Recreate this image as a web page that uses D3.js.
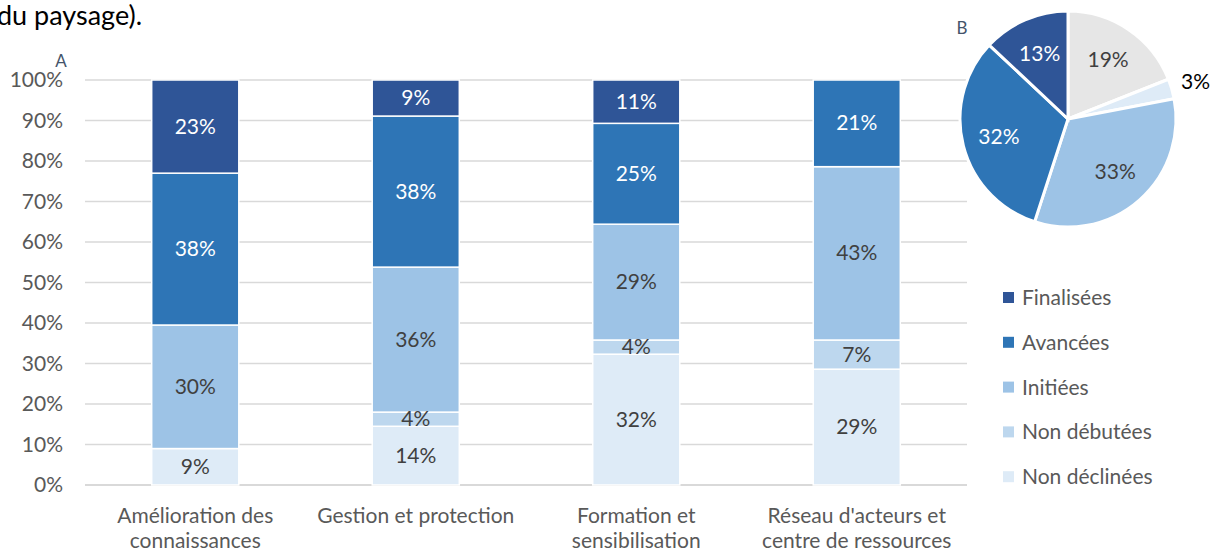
<!DOCTYPE html>
<html>
<head>
<meta charset="utf-8">
<script src="https://cdn.jsdelivr.net/npm/d3@7"></script>
<style>
	body { margin: 0; background: #fff; }
	svg text { font-family: Lato, "Liberation Sans", sans-serif; }
</style>
</head>
<body>
<div id="chart"></div>
<script>
// categories (two lines each)
let categories = [
	["Amélioration des", "connaissances"],
	["Gestion et protection"],
	["Formation et", "sensibilisation"],
	["Réseau d'acteurs et", "centre de ressources"]
];
// series, bottom to top
let seriesNames = ["Non déclinées", "Non débutées", "Initiées", "Avancées", "Finalisées"];
let seriesColors = ["#DEEBF7", "#BDD7EE", "#9DC3E6", "#2E75B6", "#2F5597"];
let nonDeclinees = [9, 14.5, 32.3, 28.6];
let nonDebutees = [0, 3.5, 3.5, 7.2];
let initiees = [30.5, 35.8, 28.6, 42.8];
let avancees = [37.5, 37.3, 24.9, 21.4];
let finalisees = [23, 8.9, 10.7, 0];
// shown labels
let labelsNonDeclinees = ["9%", "14%", "32%", "29%"];
let labelsNonDebutees = ["", "4%", "4%", "7%"];
let labelsInitiees = ["30%", "36%", "29%", "43%"];
let labelsAvancees = ["38%", "38%", "25%", "21%"];
let labelsFinalisees = ["23%", "9%", "11%", ""];
let yTicks = [0, 10, 20, 30, 40, 50, 60, 70, 80, 90, 100];

// pie (B), clockwise from top
let pieNames = ["Autre", "Non déclinées", "Initiées", "Avancées", "Finalisées"];
let pieValues = [19, 3, 33, 32, 13];
let pieColors = ["#E6E6E6", "#DEEBF7", "#9DC3E6", "#2E75B6", "#2F5597"];

var width = 1220, height = 552;
var fs = 21;
var svg = d3.select("#chart").append("svg")
	.attr("width", width)
	.attr("height", height);

// leftover text from the page above
svg.append("text")
	.attr("x", -3).attr("y", 25)
	.attr("font-size", 27).attr("fill", "#000")
	.text("du paysage).");

var xScale = d3.scaleBand()
	.domain(d3.range(categories.length))
	.range([85, 967])
	.paddingInner(0.605)
	.paddingOuter(0.3025);
var yScale = d3.scaleLinear()
	.domain([0, 100])
	.range([485, 80]);

// grid
svg.append("g").selectAll("line")
	.data(yTicks)
	.enter().append("line")
	.attr("x1", 85).attr("x2", 967)
	.attr("y1", d => yScale(d)).attr("y2", d => yScale(d))
	.attr("stroke", "#D9D9D9")
	.attr("stroke-width", d => d === 0 ? 2 : 1.5);

svg.append("g").selectAll("text")
	.data(yTicks)
	.enter().append("text")
	.attr("x", 63).attr("y", d => yScale(d) + 7)
	.attr("text-anchor", "end")
	.attr("font-size", fs).attr("fill", "#595959")
	.text(d => d + "%");

svg.append("text")
	.attr("x", 61).attr("y", 67)
	.attr("text-anchor", "middle")
	.attr("font-size", 17).attr("fill", "#44546A")
	.text("A");

// stack
let rows = categories.map((c, i) => ({
	"Non déclinées": nonDeclinees[i],
	"Non débutées": nonDebutees[i],
	"Initiées": initiees[i],
	"Avancées": avancees[i],
	"Finalisées": finalisees[i]
}));
let labelSets = [labelsNonDeclinees, labelsNonDebutees, labelsInitiees, labelsAvancees, labelsFinalisees];
var stacked = d3.stack().keys(seriesNames)(rows);

var groups = svg.append("g").selectAll("g")
	.data(stacked)
	.enter().append("g")
	.attr("fill", (d, i) => seriesColors[i]);

groups.selectAll("rect")
	.data(d => d.map((v, i) => ({v: v, i: i})))
	.enter().append("rect")
	.filter(d => d.v[1] - d.v[0] > 0)
	.attr("x", d => xScale(d.i))
	.attr("width", xScale.bandwidth())
	.attr("y", d => yScale(d.v[1]))
	.attr("height", d => yScale(d.v[0]) - yScale(d.v[1]))
	.attr("stroke", "#fff")
	.attr("stroke-width", 1.5);

stacked.forEach((s, k) => {
	svg.append("g").selectAll("text")
		.data(s.map((v, i) => ({v: v, i: i, t: labelSets[k][i]})))
		.enter().append("text")
		.filter(d => d.t !== "")
		.attr("x", d => xScale(d.i) + xScale.bandwidth() / 2)
		.attr("y", d => yScale((d.v[0] + d.v[1]) / 2) + 7)
		.attr("text-anchor", "middle")
		.attr("font-size", fs)
		.attr("fill", k >= 3 ? "#fff" : "#404040")
		.text(d => d.t);
});

// category labels
var catG = svg.append("g").selectAll("text")
	.data(categories)
	.enter().append("text")
	.attr("x", (d, i) => xScale(i) + xScale.bandwidth() / 2)
	.attr("y", 523)
	.attr("text-anchor", "middle")
	.attr("font-size", fs).attr("fill", "#595959");
catG.selectAll("tspan")
	.data(d => d)
	.enter().append("tspan")
	.attr("x", function() { return d3.select(this.parentNode).attr("x"); })
	.attr("dy", (d, i) => i === 0 ? 0 : 25)
	.text(d => d);

// pie
var cx = 1068, cy = 119, r = 108;
var pie = d3.pie().sort(null).value(d => d);
var arc = d3.arc().innerRadius(0).outerRadius(r);
var labelArc = d3.arc().innerRadius(r * 0.66).outerRadius(r * 0.66);
var outArc = d3.arc().innerRadius(r * 1.23).outerRadius(r * 1.23);
var pg = svg.append("g").attr("transform", `translate(${cx},${cy})`);
var arcs = pie(pieValues);
pg.selectAll("path")
	.data(arcs)
	.enter().append("path")
	.attr("d", arc)
	.attr("fill", (d, i) => pieColors[i])
	.attr("stroke", "#fff")
	.attr("stroke-width", 3);
pg.selectAll("text")
	.data(arcs)
	.enter().append("text")
	.attr("transform", d => {
		let c = d.value < 5 ? outArc.centroid(d) : labelArc.centroid(d);
		return `translate(${c[0]},${c[1] + 7})`;
	})
	.attr("text-anchor", "middle")
	.attr("font-size", fs)
	.attr("fill", (d, i) => d.value < 5 ? "#000" : (i >= 3 ? "#fff" : "#404040"))
	.text(d => d.value + "%");

svg.append("text")
	.attr("x", 962).attr("y", 34)
	.attr("text-anchor", "middle")
	.attr("font-size", 17).attr("fill", "#44546A")
	.text("B");

// legend, top to bottom
let legendOrder = seriesNames.slice().reverse();
var leg = svg.append("g").selectAll("g")
	.data(legendOrder)
	.enter().append("g")
	.attr("transform", (d, i) => `translate(1003,${297 + i * 44.8})`);
leg.append("rect")
	.attr("x", 0).attr("y", -5)
	.attr("width", 11).attr("height", 11)
	.attr("fill", d => seriesColors[seriesNames.indexOf(d)]);
leg.append("text")
	.attr("x", 19).attr("y", 8)
	.attr("font-size", fs).attr("fill", "#595959")
	.text(d => d);
</script>
</body>
</html>
